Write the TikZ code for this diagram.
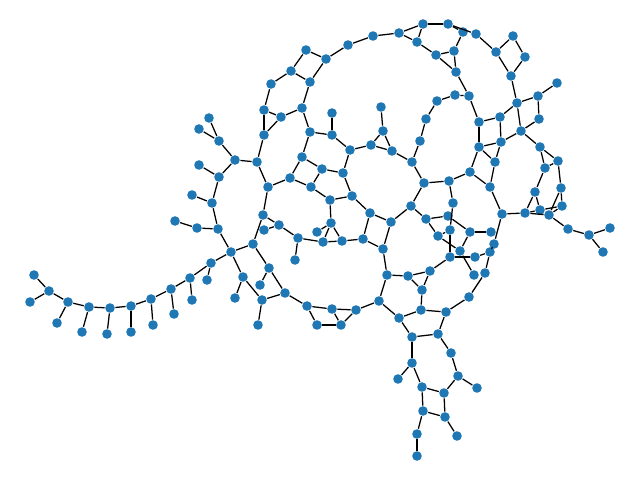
\documentclass[tikz,border=0pt]{standalone}
\usepackage{tikz}
\definecolor{nodeblue}{HTML}{1F77B4}
\tikzset{vtx/.style={circle, fill=nodeblue, inner sep=0pt, minimum size=2.4mm}}

\begin{document}
\begin{tikzpicture}[x=0.025cm, y=-0.025cm, line width=0.9pt]
\useasboundingbox (0,0) rectangle (640,480);
% upper arc
\foreach \n/\x/\y in {a1/306/50, a2/326/59, a3/291/71, a4/310/82, a5/271/84, a6/264/110,
  a7/302/108, a8/281/117, a9/264/135, a10/310/132, a11/348/45, a12/373/36, a13/399/33,
  a14/417/42, a15/423/24, a16/448/24, a17/463/32, a18/476/34, a19/436/55, a20/454/51,
  a21/456/72, a22/469/96, a23/455/95, a24/437/101, a25/426/119, a26/420/141, a27/412/162,
  a28/479/122}
  \node[vtx] (\n) at (\x,\y) {};
% right side
\foreach \n/\x/\y in {b1/496/52, b2/513/36, b3/525/57, b4/511/76, b5/517/103, b6/538/96,
  b7/557/83, b8/539/119, b9/521/131, b10/500/117, b11/501/142, b12/479/147, b13/495/162,
  b14/470/172, b15/490/187, b16/540/147, b17/558/161, b18/545/168, b19/535/192,
  b20/561/188, b21/562/206, b22/540/210, b23/525/213, b24/549/215, b25/568/229,
  b26/589/235, b27/610/228, b28/603/252, b29/502/214}
  \node[vtx] (\n) at (\x,\y) {};
% middle
\foreach \n/\x/\y in {c1/381/107, c2/383/131, c3/371/145, c4/392/151, c5/350/150,
  c6/332/135, c7/332/113, c8/343/173, c9/322/169, c10/302/157, c11/290/178, c12/311/187,
  c13/352/196, c14/330/200, c15/370/213, c16/391/222, c17/411/206, c18/424/183,
  c19/449/181, c20/453/203, c21/426/219, c22/448/216, c23/438/236, c24/450/230,
  c25/470/232, c26/491/232, c27/460/251, c28/474/275, c29/450/257, c30/475/257,
  c31/490/252, c32/494/244, c33/485/273, c34/469/297, c35/430/271, c36/408/276,
  c37/422/290, c38/387/275, c39/383/249, c40/363/239, c41/342/241, c42/323/242,
  c43/331/223, c44/317/232}
  \node[vtx] (\n) at (\x,\y) {};
% left and bottom ring
\foreach \n/\x/\y in {d1/209/118, d2/199/129, d3/219/141, d4/235/160, d5/257/162,
  d6/199/165, d7/219/177, d8/192/195, d9/212/203, d10/175/221, d11/197/228, d12/218/229,
  d13/231/252, d14/268/187, d15/263/215, d16/279/225, d17/264/230, d18/298/238,
  d19/295/260, d20/253/244, d21/269/268, d22/260/285, d23/285/293, d24/243/277,
  d25/235/298, d26/262/300, d27/258/325, d28/307/306, d29/332/309, d30/356/310,
  d31/317/325, d32/341/325, d33/379/301, d34/399/318, d35/421/310, d36/446/312,
  d37/412/337, d38/438/334}
  \node[vtx] (\n) at (\x,\y) {};
% tail
\foreach \n/\x/\y in {e1/211/263, e2/207/280, e3/190/278, e4/192/300, e5/171/289,
  e6/174/314, e7/151/299, e8/153/325, e9/131/306, e10/131/332, e11/110/308, e12/107/334,
  e13/89/307, e14/82/332, e15/68/302, e16/57/323, e17/49/291, e18/34/275, e19/30/302}
  \node[vtx] (\n) at (\x,\y) {};
% lower branch
\foreach \n/\x/\y in {f1/451/353, f2/458/376, f3/477/388, f4/444/393, f5/412/363,
  f6/398/379, f7/422/387, f8/423/411, f9/445/417, f10/417/434, f11/417/456, f12/457/436}
  \node[vtx] (\n) at (\x,\y) {};

% edges
\foreach \u/\v in {a1/a2, a1/a3, a3/a4, a2/a4, a3/a5, a5/a6, a4/a7, a6/a8, a8/a7, a6/a9,
  a8/a9, a7/a10, a2/a11, a11/a12, a12/a13, a13/a15, a13/a14, a14/a15, a15/a16, a16/a17,
  a16/a18, a14/a19, a19/a20, a20/a17, a19/a21, a20/a21, a21/a22, a22/a28, a22/a23,
  a18/b1, a23/a24, a24/a25, a25/a26, a26/a27}
  \draw (\u)--(\v);
\foreach \u/\v in {b1/b2, b2/b3, b3/b4, b1/b4, b4/b5, b5/b6, b6/b7, b6/b8, b8/b9, b5/b9,
  b5/b10, b10/a28, b10/b11, b9/b11, a28/b12, b12/b11, b12/b13, b11/b13, b12/b14,
  b14/b15, b13/b15, b15/b29, b9/b16, b16/b17, b16/b18, b18/b17, b17/b20, b18/b19,
  b19/b23, b19/b22, b23/b22, b22/b21, b23/b24, b24/b21, b20/b21, b20/b24, b24/b25,
  b25/b26, b26/b27, b26/b28, b29/b23, b29/c32}
  \draw (\u)--(\v);
\foreach \u/\v in {a27/c4, c4/c2, c4/c3, c2/c3, c1/c2, c3/c5, c5/c6, c6/c7, c6/a10,
  c10/a10, c10/c9, c9/c12, c11/c12, c11/c10, c12/c14, c9/c8, c8/c5, c8/c13, c13/c14,
  c13/c15, c14/c43, c15/c16, c15/c40, c16/c17, c16/c39, c17/c18, c17/c21, c18/a27,
  c18/c19, c19/b14, c19/c20, c20/c24, c24/c29, c21/c22, c21/c23, c22/c25, c23/c24,
  c23/c27, c25/c26, c25/c27, c27/c28, c29/c30, c29/c35, c30/c31, c31/c32, c31/c33,
  c33/c34, c34/d36, c35/c36, c35/c37, c36/c37, c36/c38, c38/c39, c38/d33, c39/c40,
  c40/c41, c41/c42, c41/c43, c42/c43, c43/c44, c42/d18}
  \draw (\u)--(\v);
\foreach \u/\v in {d1/d3, d2/d3, d3/d4, d4/d5, d5/a9, d5/d14, d14/c11, d4/d7, d6/d7,
  d7/d9, d8/d9, d9/d12, d10/d11, d11/d12, d12/d13, d13/e1, d13/d20, d13/d24, d20/d15,
  d20/d21, d15/d14, d15/d16, d16/d17, d16/d18, d18/d19, d21/d22, d21/d23, d24/d25,
  d24/d26, d26/d23, d26/d27, d23/d28, d28/d29, d28/d31, d31/d32, d29/d32, d29/d30,
  d32/d30, d30/d33, d33/d34, d34/d35, d35/d36, d35/c37, d34/d37, d36/d38, d37/d38,
  d38/f1, d37/f5}
  \draw (\u)--(\v);
\foreach \u/\v in {e1/e2, e1/e3, e3/e4, e3/e5, e5/e6, e5/e7, e7/e8, e7/e9, e9/e10,
  e9/e11, e11/e12, e11/e13, e13/e14, e13/e15, e15/e16, e15/e17, e17/e18, e17/e19}
  \draw (\u)--(\v);
\foreach \u/\v in {f1/f2, f2/f3, f2/f4, f5/f6, f5/f7, f7/f4, f7/f8, f4/f9, f8/f9,
  f8/f10, f10/f11, f9/f12}
  \draw (\u)--(\v);
\end{tikzpicture}
\end{document}
